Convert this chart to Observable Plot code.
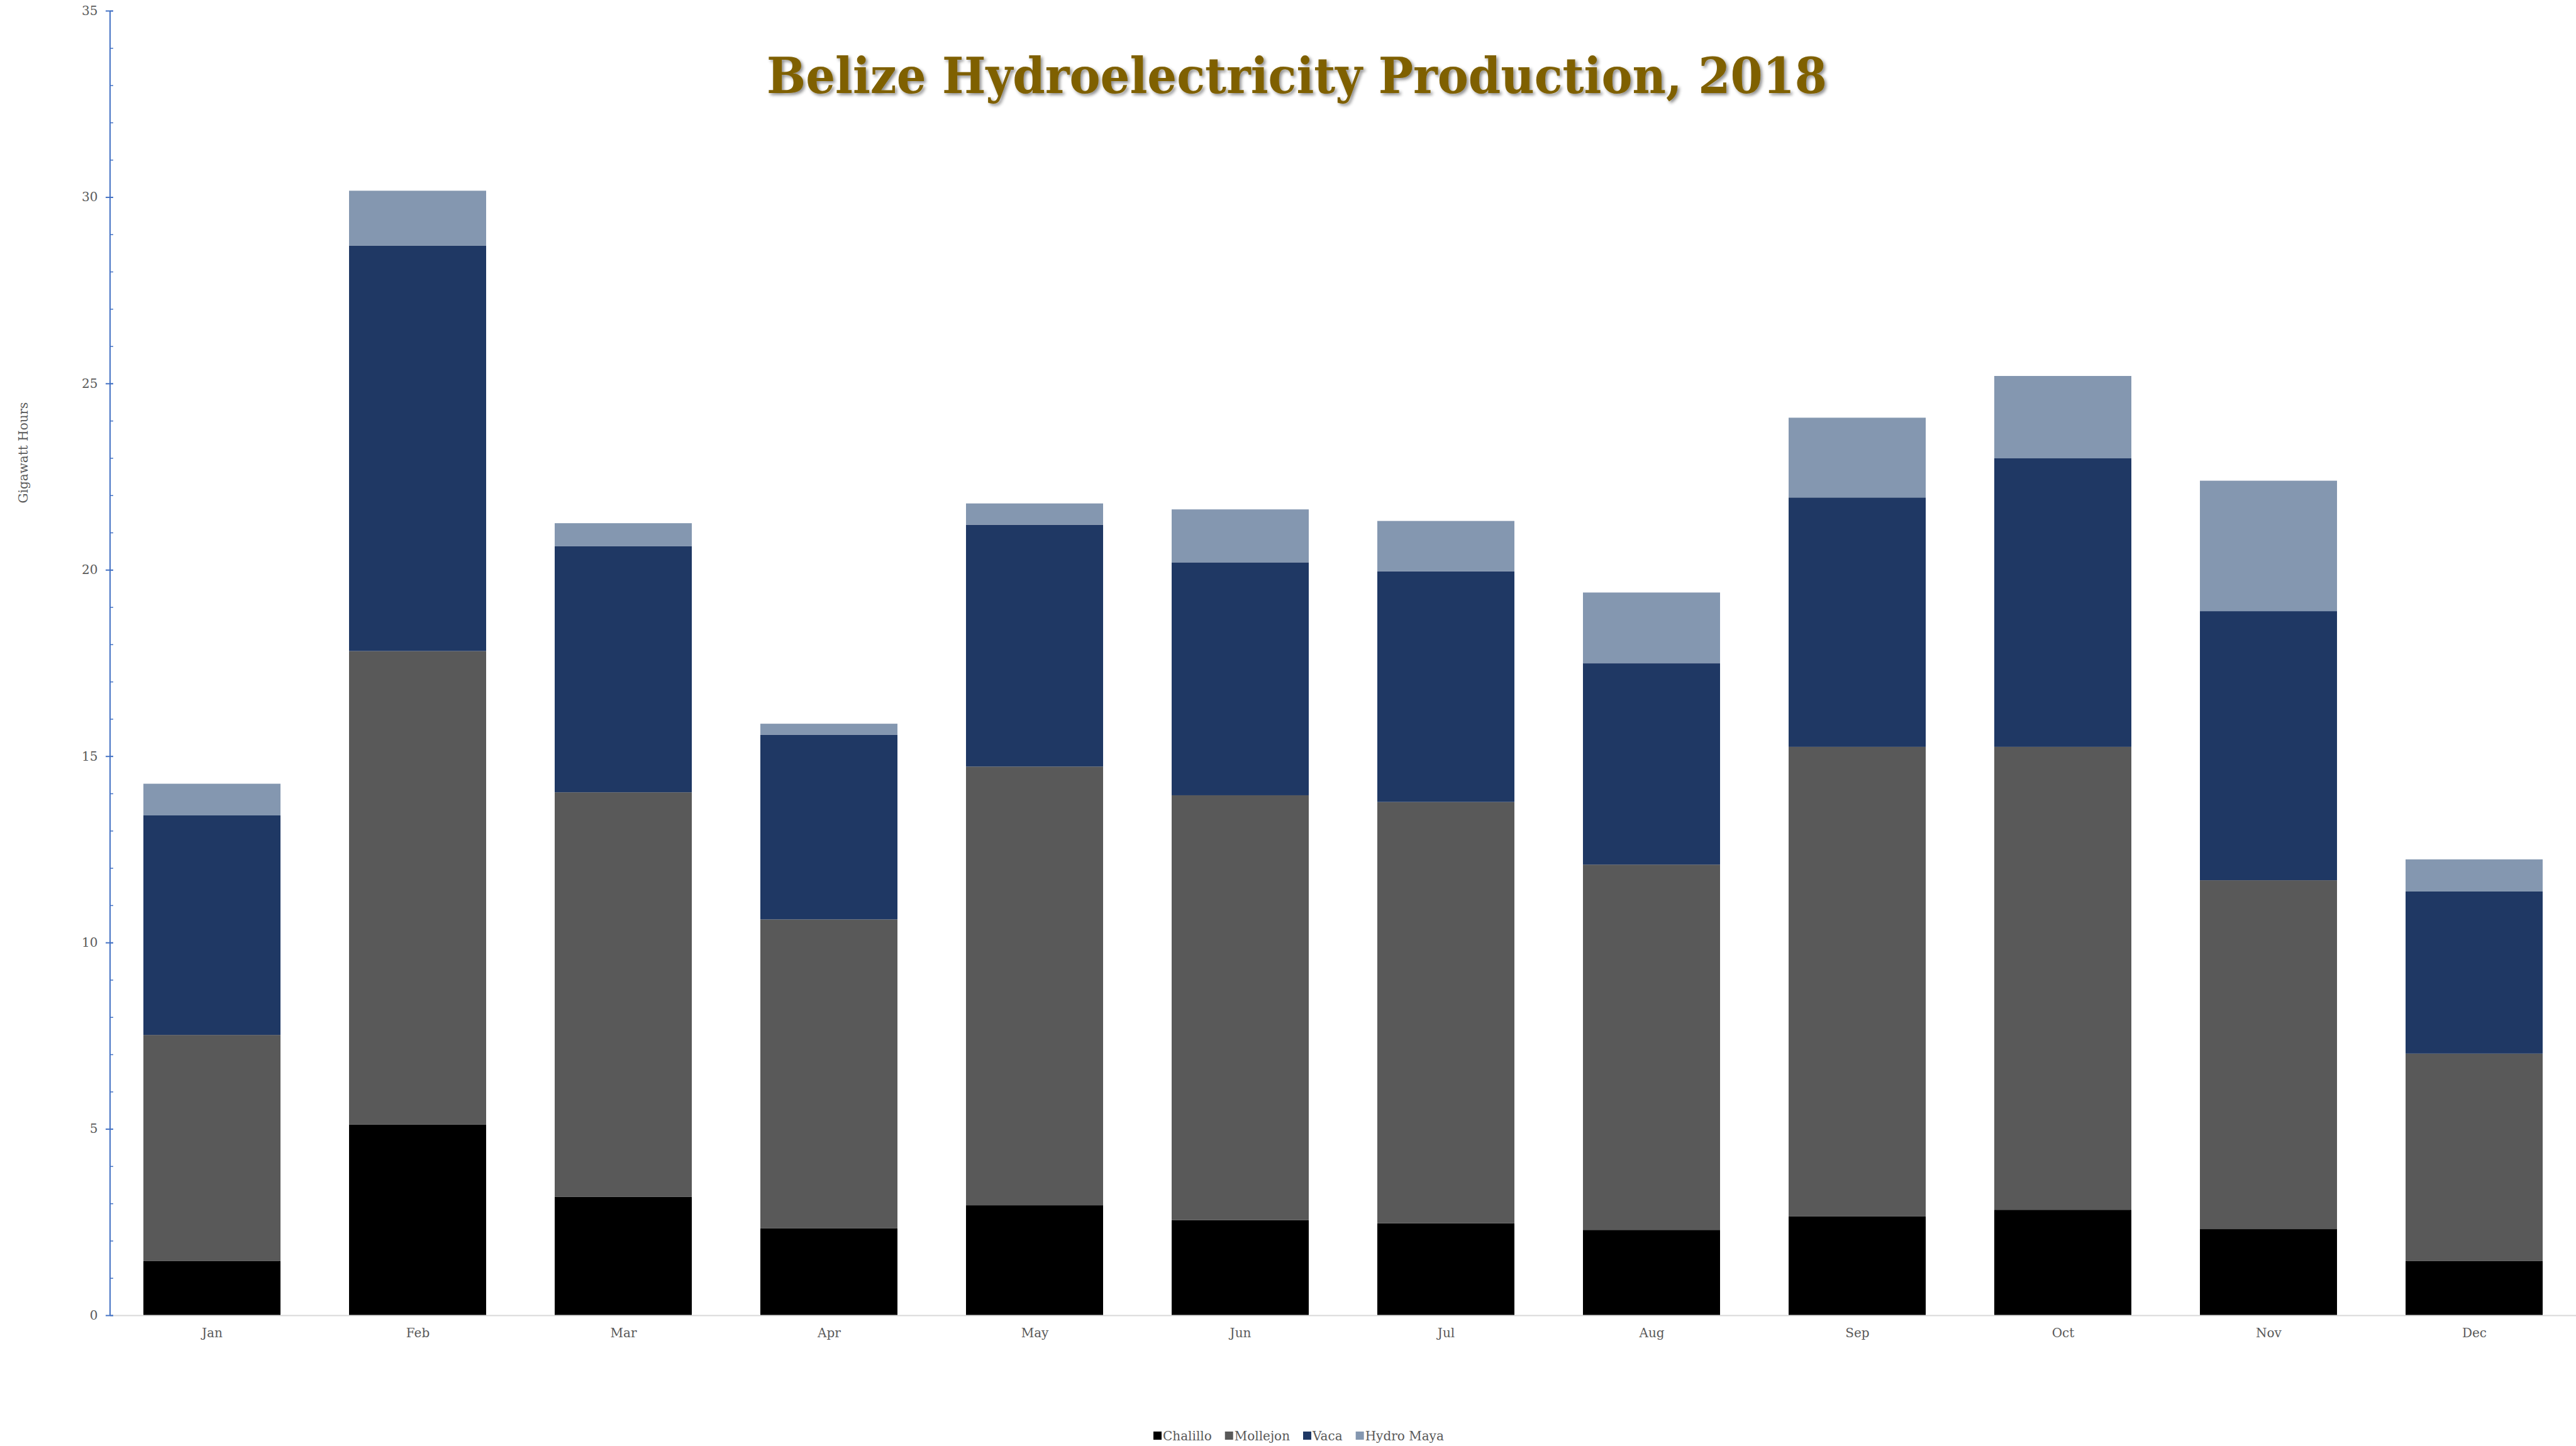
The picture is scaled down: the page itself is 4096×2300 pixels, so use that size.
<!DOCTYPE html>
<html>
<head>
<meta charset="utf-8">
<script src="https://cdn.jsdelivr.net/npm/d3@7"></script>
<script src="https://cdn.jsdelivr.net/npm/@observablehq/plot@0.6"></script>
<style>
  html, body { margin: 0; padding: 0; background: #ffffff; }
  #wrap { position: relative; width: 4096px; height: 2300px; overflow: hidden; }
  #wrap > svg { position: absolute; left: 0; top: 0; }
</style>
</head>
<body>
<div id="wrap"></div>
<script>
// ---- data (GWh) ----
const months = ["Jan","Feb","Mar","Apr","May","Jun","Jul","Aug","Sep","Oct","Nov","Dec"];
const series = ["Chalillo","Mollejon","Vaca","Hydro Maya"];
const chalillo  = [1.46, 5.12, 3.18, 2.33, 2.95, 2.55, 2.47, 2.29, 2.65, 2.83, 2.31, 1.46];
const mollejon  = [6.06, 12.70, 10.85, 8.29, 11.77, 11.40, 11.30, 9.80, 12.60, 12.42, 9.36, 5.56];
const vaca      = [5.89, 10.88, 6.60, 4.95, 6.49, 6.25, 6.19, 5.40, 6.69, 7.74, 7.22, 4.35];
const hydroMaya = [0.85, 1.47, 0.62, 0.30, 0.57, 1.42, 1.35, 1.90, 2.14, 2.21, 3.50, 0.86];
const colors = ["#000000", "#595959", "#1F3864", "#8497B0"];
const yTicksMajor = [0, 5, 10, 15, 20, 25, 30, 35];
const yTicksMinor = d3.range(0, 36, 1);
const titleText = "Belize Hydroelectricity Production, 2018";
const yLabel = "Gigawatt Hours";

const seriesValues = [chalillo, mollejon, vaca, hydroMaya];
const data = [];
series.forEach((s, i) => months.forEach((m, j) => data.push({month: m, series: s, value: seriesValues[i][j]})));

const axisBlue = "#4472C4";
const textGray = "#595959";
const font = "'DejaVu Serif', 'Liberation Serif', serif";

const W = 4096, H = 2300;

const axisLine = (index, {y}, values, dims) => {
  const l = document.createElementNS("http://www.w3.org/2000/svg", "line");
  l.setAttribute("x1", dims.marginLeft);
  l.setAttribute("x2", dims.marginLeft);
  l.setAttribute("y1", y(0));
  l.setAttribute("y2", y(35));
  l.setAttribute("stroke", axisBlue);
  l.setAttribute("stroke-width", 2);
  return l;
};

const chart = Plot.plot({
  width: W,
  height: H,
  marginLeft: 175,
  marginRight: 0,
  marginTop: 17,
  marginBottom: 208,
  style: {fontFamily: font, fontSize: "20px", color: textGray, background: "transparent"},
  x: {domain: months, paddingInner: 1/3, paddingOuter: 0.16, axis: null},
  y: {domain: [0, 35], axis: null},
  color: {domain: series, range: colors},
  marks: [
    Plot.barY(data, {x: "month", y: "value", fill: "series", z: "series"}),
    Plot.ruleY([0], {stroke: "#D9D9D9", strokeWidth: 2}),
    Plot.axisX({anchor: "bottom", tickSize: 0, tickPadding: 20, fill: textGray, fontSize: 20, label: null}),
    axisLine,
    Plot.axisY({anchor: "left", ticks: yTicksMinor, tickSize: 5, insetLeft: 5, fill: "none", tickFormat: () => "", stroke: axisBlue, strokeWidth: 1.5, label: null}),
    Plot.axisY({anchor: "left", ticks: yTicksMajor, tickSize: 12, insetLeft: 5, fill: "none", tickFormat: () => "", stroke: axisBlue, strokeWidth: 2, label: null}),
    Plot.axisY({anchor: "left", ticks: yTicksMajor, tickSize: 0, tickPadding: 20, fill: textGray, fontSize: 20, label: null})
  ]
});

const wrap = document.getElementById("wrap");
wrap.appendChild(chart);

// ---- overlay: title, y label, legend ----
const ov = d3.select(wrap).append("svg")
  .attr("width", W).attr("height", H)
  .style("pointer-events", "none")
  .style("font-family", font);

const defs = ov.append("defs");
const f = defs.append("filter").attr("id", "tshadow").attr("x", "-5%").attr("y", "-20%").attr("width", "110%").attr("height", "150%");
f.append("feDropShadow").attr("dx", 3).attr("dy", 3).attr("stdDeviation", 2.5)
  .attr("flood-color", "#000000").attr("flood-opacity", 0.45);

ov.append("text")
  .attr("x", 2062).attr("y", 148)
  .attr("text-anchor", "middle")
  .attr("font-size", 78)
  .attr("font-weight", "bold")
  .attr("fill", "#7F6000")
  .attr("textLength", 1686)
  .attr("lengthAdjust", "spacingAndGlyphs")
  .attr("filter", "url(#tshadow)")
  .text(titleText);

ov.append("text")
  .attr("transform", "translate(44,720) rotate(-90)")
  .attr("text-anchor", "middle")
  .attr("font-size", 20)
  .attr("fill", textGray)
  .text(yLabel);

// legend
const lg = ov.append("g");
let lx = 1834;
series.forEach((s, i) => {
  lg.append("rect").attr("x", lx).attr("y", 2277).attr("width", 13).attr("height", 13).attr("fill", colors[i]);
  const t = lg.append("text").attr("x", lx + 15).attr("y", 2291)
    .attr("font-size", 20).attr("fill", textGray).text(s);
  lx += 15 + t.node().getComputedTextLength() + 21;
});
</script>
</body>
</html>
